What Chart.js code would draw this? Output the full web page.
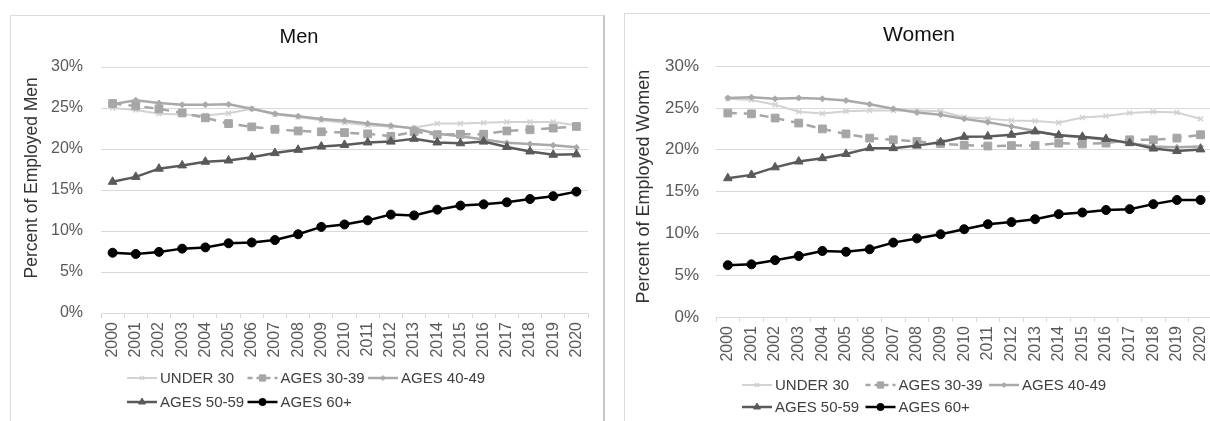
<!DOCTYPE html>
<html>
<head>
<meta charset="utf-8">
<title>Employment share by age group</title>
<script src="https://cdn.jsdelivr.net/npm/chart.js@4.4.1/dist/chart.umd.min.js"></script>
<style>
  html, body { margin: 0; padding: 0; background: #fff; overflow: hidden; width: 1210px; height: 421px; }
  .frame { position: absolute; box-sizing: border-box; }
  #menFrame { left: 10px; top: 15px; width: 595px; height: 420px; border: 1px solid #dcdcdc; border-right: 2px solid #c6c6c6; }
  #womenFrame { left: 624px; top: 13px; width: 620px; height: 420px; border: 1px solid #dcdcdc; }
  canvas { position: absolute; }
  #menChart { left: 10px; top: 15px; }
  #womenChart { left: 624px; top: 13px; }
</style>
</head>
<body>
<div class="frame" id="menFrame"></div>
<div class="frame" id="womenFrame"></div>
<canvas id="menChart" width="593" height="405"></canvas>
<canvas id="womenChart" width="600" height="408"></canvas>
<script>
// values (percent of employed)
const years = ['2000', '2001', '2002', '2003', '2004', '2005', '2006', '2007', '2008', '2009', '2010',
  '2011', '2012', '2013', '2014', '2015', '2016', '2017', '2018', '2019', '2020'];
const seriesNames = ['UNDER 30', 'AGES 30-39', 'AGES 40-49', 'AGES 50-59', 'AGES 60+'];
const yTicks = [0, 5, 10, 15, 20, 25, 30];

const menUnder30 = [25.0, 24.75, 24.3, 24.2, 24.1, 24.35, 24.9, 24.2, 23.9, 23.5, 23.2, 22.9, 22.7, 22.6, 23.1, 23.1, 23.2, 23.3, 23.3, 23.3, 22.9];
const men30to39 = [25.55, 25.25, 24.9, 24.4, 23.8, 23.1, 22.7, 22.4, 22.2, 22.1, 22.0, 21.85, 21.55, 22.1, 21.75, 21.8, 21.8, 22.2, 22.35, 22.55, 22.75];
const men40to49 = [25.45, 25.95, 25.6, 25.4, 25.4, 25.45, 24.9, 24.3, 24.0, 23.65, 23.45, 23.1, 22.85, 22.5, 21.85, 21.55, 21.15, 20.75, 20.6, 20.45, 20.2];
const men50to59 = [16.0, 16.6, 17.6, 18.0, 18.45, 18.6, 19.0, 19.5, 19.9, 20.3, 20.5, 20.8, 20.9, 21.25, 20.8, 20.7, 20.9, 20.25, 19.7, 19.3, 19.35];
const men60plus = [7.35, 7.2, 7.45, 7.85, 8.0, 8.5, 8.6, 8.9, 9.6, 10.5, 10.8, 11.3, 12.0, 11.9, 12.6, 13.1, 13.25, 13.5, 13.9, 14.25, 14.8];

const womenUnder30 = [26.1, 25.95, 25.4, 24.55, 24.35, 24.6, 24.7, 24.7, 24.7, 24.6, 23.9, 23.7, 23.5, 23.45, 23.25, 23.85, 24.05, 24.4, 24.55, 24.45, 23.7];
const women30to39 = [24.4, 24.3, 23.8, 23.2, 22.5, 21.9, 21.4, 21.2, 21.0, 20.75, 20.55, 20.45, 20.5, 20.5, 20.8, 20.7, 20.8, 21.2, 21.2, 21.4, 21.8];
const women40to49 = [26.2, 26.3, 26.1, 26.2, 26.1, 25.9, 25.45, 24.9, 24.45, 24.2, 23.7, 23.3, 22.8, 22.25, 21.75, 21.5, 21.2, 20.8, 20.4, 20.3, 20.4];
const women50to59 = [16.6, 17.0, 17.9, 18.6, 19.0, 19.5, 20.2, 20.2, 20.5, 20.9, 21.55, 21.6, 21.8, 22.2, 21.75, 21.55, 21.3, 20.8, 20.15, 19.85, 20.05];
const women60plus = [6.2, 6.3, 6.8, 7.3, 7.9, 7.8, 8.1, 8.9, 9.4, 9.9, 10.5, 11.1, 11.35, 11.7, 12.3, 12.5, 12.8, 12.9, 13.5, 14.0, 14.0];

const FONT = "'Liberation Sans', Arial, sans-serif";

// line + marker look for each age group (Excel style)
const looks = [
  { color: '#d2d2d2', width: 2, dash: [], point: 'crossRot', radius: 3.5, order: 5 },
  { color: '#a6a6a6', width: 2.5, dash: [9, 7], point: 'rect', radius: 5.5, order: 4 },
  { color: '#a9a9a9', width: 2.5, dash: [], point: 'rectRot', radius: 3, order: 3 },
  { color: '#5a5a5a', width: 2.5, dash: [], point: 'triangle', radius: 5, order: 2 },
  { color: '#000000', width: 2.5, dash: [], point: 'circle', radius: 4.5, order: 1 }
];

// legend drawn in fixed columns, like the spreadsheet one
const excelLegend = {
  id: 'excelLegend',
  afterDraw(chart, args, opts) {
    const ctx = chart.ctx;
    const area = chart.chartArea;
    chart.data.datasets.forEach(function(ds, i) {
      const x = area.left + opts.startX + (i % 3) * opts.colWidth;
      const y = area.bottom + opts.rowY[Math.floor(i / 3)];
      ctx.save();
      ctx.strokeStyle = ds.borderColor;
      ctx.lineWidth = ds.borderWidth;
      ctx.setLineDash(ds.borderDash.length ? [5, 4] : []);
      ctx.beginPath();
      ctx.moveTo(x, y);
      ctx.lineTo(x + 30, y);
      ctx.stroke();
      ctx.setLineDash([]);
      ctx.fillStyle = ds.pointBackgroundColor;
      ctx.strokeStyle = ds.pointBorderColor;
      ctx.lineWidth = ds.pointBorderWidth;
      Chart.helpers.drawPoint(ctx, {
        pointStyle: ds.pointStyle, radius: ds.pointRadius * 0.8, rotation: 0, borderWidth: ds.pointBorderWidth
      }, x + 15, y);
      ctx.fillStyle = '#404040';
      ctx.font = opts.fontSize + 'px ' + FONT;
      ctx.textBaseline = 'middle';
      ctx.fillText(ds.label, x + 33, y + 1);
      ctx.restore();
    });
  }
};

function makeChart(canvasId, titleText, axisText, series, lay) {
  const datasets = series.map(function(values, i) {
    const lk = looks[i];
    return {
      label: seriesNames[i],
      data: values,
      borderColor: lk.color,
      borderWidth: lk.width,
      borderDash: lk.dash,
      pointStyle: lk.point,
      pointRadius: lk.radius,
      pointBackgroundColor: lk.color,
      pointBorderColor: lk.color,
      pointBorderWidth: lk.point === 'crossRot' ? 1.5 : 1,
      tension: 0,
      order: lk.order
    };
  });

  return new Chart(document.getElementById(canvasId), {
    type: 'line',
    data: { labels: years, datasets: datasets },
    options: {
      responsive: false,
      animation: false,
      layout: { padding: { left: 0, right: lay.padRight, top: 0, bottom: lay.padBottom } },
      plugins: {
        legend: { display: false },
        tooltip: { enabled: false },
        title: {
          display: true,
          text: titleText,
          color: '#111',
          font: { family: FONT, size: lay.titleSize, weight: 'normal' },
          padding: { top: 10, bottom: lay.titleGap }
        },
        excelLegend: { startX: 26, colWidth: lay.colWidth, rowY: lay.rowY, fontSize: 15 }
      },
      scales: {
        x: {
          offset: true,
          grid: { display: true, drawOnChartArea: false, drawTicks: true, tickLength: 5, color: '#d9d9d9', offset: true },
          border: { color: '#d9d9d9' },
          ticks: {
            autoSkip: false, minRotation: 90, maxRotation: 90, padding: 4,
            color: '#595959', font: { family: FONT, size: 16 }
          },
          afterFit: function(s) { s.height = lay.xHeight; }
        },
        y: {
          min: yTicks[0],
          max: yTicks[yTicks.length - 1],
          afterBuildTicks: function(s) { s.ticks = yTicks.map(function(v) { return { value: v }; }); },
          ticks: {
            padding: lay.tickPad,
            color: '#595959',
            font: { family: FONT, size: lay.tickSize },
            callback: function(v) { return v + '%'; }
          },
          grid: { color: '#d9d9d9', drawTicks: false },
          border: { display: false },
          title: {
            display: true,
            // leading blanks lift the rotated title a little above the plot centre, as in the source
            text: ' '.repeat(lay.titleLift) + axisText,
            color: '#333',
            font: { family: FONT, size: lay.axisTitleSize },
            padding: { top: lay.axisTitlePad, bottom: 0 }
          },
          afterFit: function(s) { s.width = lay.yWidth; }
        }
      }
    },
    plugins: [excelLegend]
  });
}

makeChart('menChart', 'Men', 'Percent of Employed Men',
  [menUnder30, men30to39, men40to49, men50to59, men60plus],
  { padRight: 15, padBottom: 62, titleSize: 20, titleGap: 18, xHeight: 45, yWidth: 91,
    tickPad: 18, tickSize: 16, axisTitleSize: 17.5, axisTitlePad: 12, titleLift: 5,
    colWidth: 120.5, rowY: [65, 89] });

makeChart('womenChart', 'Women', 'Percent of Employed Women',
  [womenUnder30, women30to39, women40to49, women50to59, women60plus],
  { padRight: 10, padBottom: 54, titleSize: 21, titleGap: 18, xHeight: 50, yWidth: 92,
    tickPad: 17, tickSize: 17, axisTitleSize: 18, axisTitlePad: 9, titleLift: 2,
    colWidth: 123.5, rowY: [68, 90] });
</script>
</body>
</html>
